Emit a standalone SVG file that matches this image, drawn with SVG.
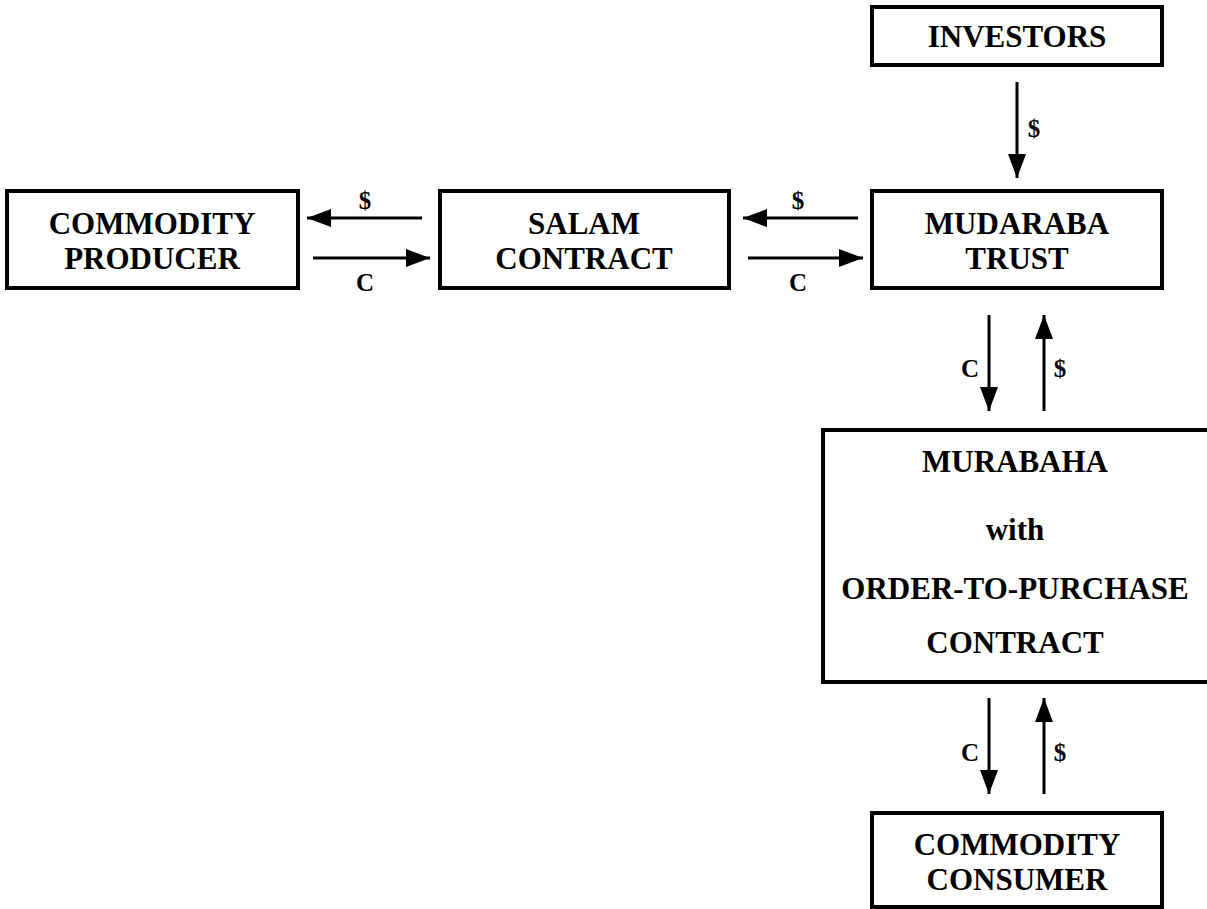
<svg xmlns="http://www.w3.org/2000/svg" width="1207" height="909" viewBox="0 0 1207 909">
<style>
.box{fill:#fff;stroke:#000;stroke-width:4}
.t{font-family:"Liberation Serif","Times New Roman",serif;font-weight:bold;font-size:31px;text-anchor:middle;fill:#000}
.l{font-family:"Liberation Serif","Times New Roman",serif;font-weight:bold;font-size:25px;text-anchor:middle;fill:#000}
.c{stroke:#000;stroke-width:3;fill:none;marker-end:url(#ah)}
</style>
<defs>
<marker id="ah" markerUnits="userSpaceOnUse" markerWidth="26" markerHeight="18" refX="24" refY="9" orient="auto">
<path d="M0,0 L24,9 L0,18 Z" fill="#000"/>
</marker>
</defs>
<rect width="1207" height="909" fill="#fff"/>
<g id="investors"><rect class="box" x="872" y="7" width="290" height="58"/><text class="t" x="1017" y="47">INVESTORS</text></g>
<g id="producer"><rect class="box" x="7" y="191" width="291" height="97"/><text class="t" x="152" y="234">COMMODITY</text><text class="t" x="152" y="269">PRODUCER</text></g>
<g id="salam"><rect class="box" x="440" y="191" width="289" height="97"/><text class="t" x="584" y="234">SALAM</text><text class="t" x="584" y="269">CONTRACT</text></g>
<g id="mudaraba"><rect class="box" x="872" y="191" width="290" height="97"/><text class="t" x="1017" y="234">MUDARABA</text><text class="t" x="1017" y="269">TRUST</text></g>
<g id="murabaha"><rect class="box" x="823" y="430" width="390" height="252"/><text class="t" x="1015" y="472">MURABAHA</text><text class="t" x="1015" y="540">with</text><text class="t" x="1015" y="599">ORDER-TO-PURCHASE</text><text class="t" x="1015" y="653">CONTRACT</text></g>
<g id="consumer"><rect class="box" x="872" y="813" width="290" height="94"/><text class="t" x="1017" y="855">COMMODITY</text><text class="t" x="1017" y="890">CONSUMER</text></g>
<g id="connectors">
<line class="c" x1="1017" y1="82" x2="1017" y2="178"/>
<text class="l" x="1034" y="137">$</text>
<line class="c" x1="422" y1="218" x2="307" y2="218"/>
<text class="l" x="365" y="209">$</text>
<line class="c" x1="313" y1="258" x2="430" y2="258"/>
<text class="l" x="365" y="291">C</text>
<line class="c" x1="858" y1="218" x2="743" y2="218"/>
<text class="l" x="798" y="209">$</text>
<line class="c" x1="748" y1="258" x2="863" y2="258"/>
<text class="l" x="798" y="291">C</text>
<line class="c" x1="989" y1="315" x2="989" y2="411"/>
<text class="l" x="970" y="377">C</text>
<line class="c" x1="1044" y1="411" x2="1044" y2="315"/>
<text class="l" x="1060" y="377">$</text>
<line class="c" x1="989" y1="698" x2="989" y2="794"/>
<text class="l" x="970" y="761">C</text>
<line class="c" x1="1044" y1="794" x2="1044" y2="698"/>
<text class="l" x="1060" y="761">$</text>
</g>
</svg>
